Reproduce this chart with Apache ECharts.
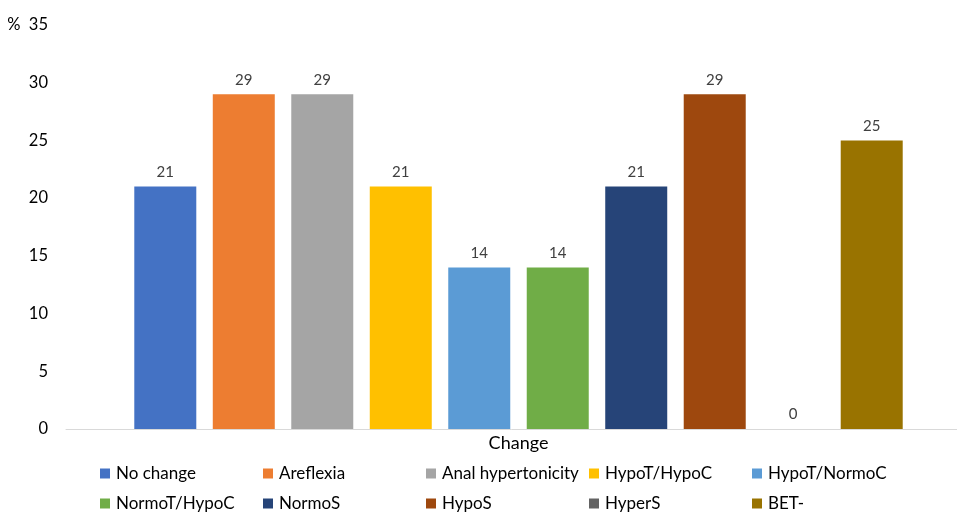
<!DOCTYPE html>
<html>
<head>
<meta charset="utf-8">
<script src="https://cdn.jsdelivr.net/npm/echarts@6/dist/echarts.min.js"></script>
<style>html,body{margin:0;padding:0;background:#fff}#c{width:957px;height:514px}</style>
</head>
<body>
<div id="c"></div>
<script>
const categories = ['Change'];
const seriesNames = ['No change', 'Areflexia', 'Anal hypertonicity', 'HypoT/HypoC', 'HypoT/NormoC',
  'NormoT/HypoC', 'NormoS', 'HypoS', 'HyperS', 'BET-'];
const values = [21, 29, 29, 21, 14, 14, 21, 29, 0, 25];
const yTicks = [0, 5, 10, 15, 20, 25, 30, 35];

const palette = ['#4472C4', '#ED7D31', '#A5A5A5', '#FFC000', '#5B9BD5',
  '#70AD47', '#264478', '#9E480E', '#636363', '#997300'];
const FONT = 'Lato, "Open Sans", sans-serif';

const chart = echarts.init(document.getElementById('c'), null, {renderer: 'canvas'});
const legends = seriesNames.map((n, i) => ({
  left: 100 + 163 * (i % 5), top: i < 5 ? 465 : 495, data: [n],
  itemWidth: 10, itemHeight: 10, itemGap: 0, icon: 'rect', selectedMode: false, padding: 0,
  textStyle: {fontFamily: FONT, fontSize: 17, color: '#000', padding: [0, 0, 0, 1]}
}));
chart.setOption({
  animation: false,
  color: palette,
  grid: [
    {left: 80, right: 0, top: 25, bottom: 85},
    {left: 66, right: 0, top: 25, bottom: 85}
  ],
  legend: legends,
  xAxis: [{
    type: 'category', data: categories, gridIndex: 0,
    name: categories[0], nameLocation: 'middle', nameGap: 5,
    nameTextStyle: {fontFamily: FONT, fontSize: 18, color: '#000', verticalAlign: 'top'},
    axisLine: {show: false},
    axisTick: {show: false}, axisLabel: {show: false}
  }, {
    type: 'category', data: categories, gridIndex: 1,
    axisLine: {lineStyle: {color: '#D9D9D9', width: 1}},
    axisTick: {show: false}, axisLabel: {show: false}
  }],
  yAxis: [{
    type: 'value', gridIndex: 0, min: yTicks[0], max: yTicks[yTicks.length - 1], interval: 5,
    splitLine: {show: false}, axisLine: {show: false}, axisTick: {show: false},
    axisLabel: {
      fontFamily: FONT, fontSize: 16.5, color: '#000', margin: 32,
      formatter: v => v === yTicks[yTicks.length - 1] ? '%  ' + v : String(v)
    }
  }, {
    type: 'value', gridIndex: 1, min: 0, max: 35, show: false
  }],
  series: seriesNames.map((n, i) => ({
    name: n, type: 'bar', data: [values[i]], xAxisIndex: 0, yAxisIndex: 0,
    barWidth: 62, barGap: '26.6%',
    label: {show: true, position: 'top', distance: 7, fontFamily: FONT, fontSize: 15, color: '#404040'}
  }))
});
</script>
</body>
</html>
